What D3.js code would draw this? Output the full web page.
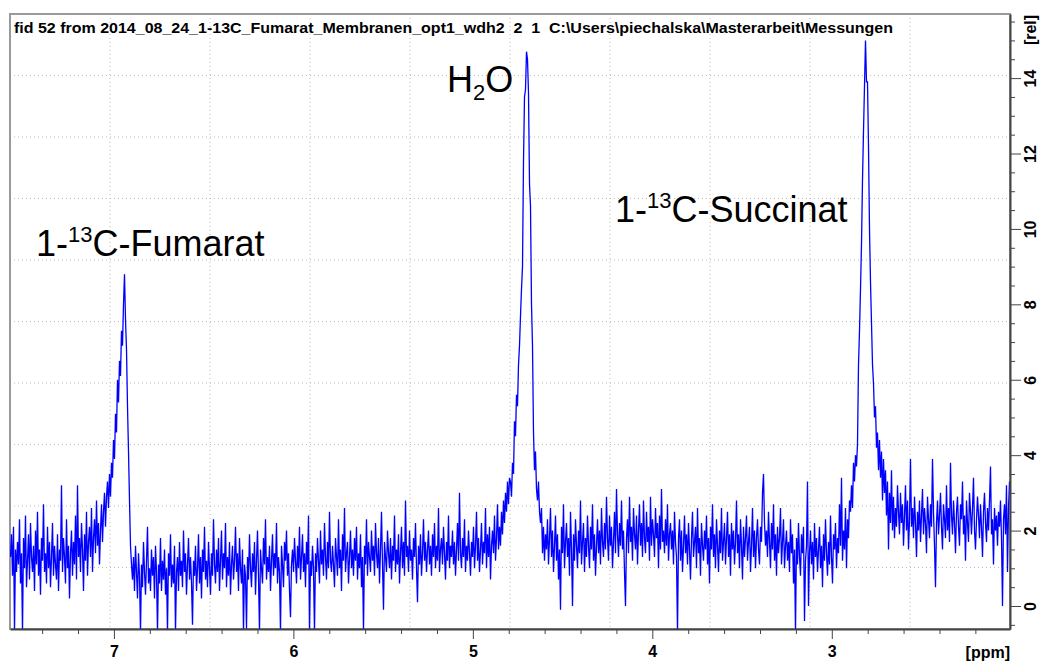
<!DOCTYPE html>
<html>
<head>
<meta charset="utf-8">
<script src="https://cdn.jsdelivr.net/npm/d3@7"></script>
<style>
  body { margin: 0; background: #fff; }
  svg { display: block; }
  .axis text { font-family: 'Liberation Sans Narrow', 'Liberation Sans', Arial, sans-serif; font-weight: bold; font-size: 16px; fill: #000; }
  .axis path, .axis line { stroke: #444; }
</style>
</head>
<body>
<svg id="chart" width="1043" height="662"></svg>
<script>
// Spectral window of the 1H trace, left edge to right edge (ppm)
const ppmStart = 7.579;
const ppmEnd = 2.007;

// Intensity [rel] of the processed spectrum, one value per point, from ppmStart to ppmEnd
const intensity = [
  // 7.58 - 7.08 ppm baseline
  1.3, 1.9, 0.8, 2.1, -0.7, 1.5, 0.9, 1.7, 1.1, 2.3, 0.6, 1.4, -0.7, 1.8, 1.0, 2.4, 0.5, 1.2, 1.9, 0.7, 2.2, 1.3, 0.9, 1.6, 0.4, 2.0, 1.1, 2.5, 0.8, 1.5,
  0.3, 1.8, 1.2, 2.7, 0.9, 1.4, 0.6, 2.1, 1.0, 1.7, 0.5, 1.3, 2.2, 0.8, 1.6, 1.1, 0.7, 1.9, 0.4, 1.5,
  1.2, 3.2, 0.9, 1.8, 1.3, 0.6, 2.3, 1.0, 1.6, 0.2, 1.4, 2.0, 0.8, 1.7, 1.1, 2.4, 0.7, 3.2, 1.3, 1.8,
  0.9, 2.2, 1.5, 0.4, 1.9, 1.2, 2.5, 0.8, 1.7, 2.1, 1.3, 2.6, 0.9, 1.8, 2.3, 1.4, 2.8, 1.6, 2.2, 1.1,
  // fumarate signal
  2.0, 2.7, 1.7, 2.5, 3.0, 2.1, 2.9, 3.3, 2.6, 3.5, 2.9, 3.8, 3.4, 4.4, 3.9, 5.1, 4.6, 6.0, 5.4, 6.5,
  6.1, 7.3, 6.9, 8.0, 8.8, 7.6, 6.8, 5.3, 4.1, 2.8, 1.6, 1.1,
  // 6.90 - 4.80 ppm baseline
  0.7, 1.3, 0.4, 1.6, 0.9, 0.2, 1.4, 0.8, -0.7, 1.1, 0.5, 1.7, 0.9, 0.3, 1.2, 2.1, 0.6, 1.0, 0.4, 1.5,
  0.8, 1.3, 0.2, 1.6, 0.9, -0.7, 1.1, 0.6, 1.8, 0.4, 1.2, 0.7, 1.5, 0.3, 1.0, -0.7, 1.4, 0.8, 1.9, 0.5,
  1.1, 0.6, 1.6, -0.7, 0.9, 1.3, 0.4, 1.7, 0.8, 1.2, 0.5, 2.0, 0.9, 1.4, 0.3, 1.1, 1.8, 0.7, 1.3, 0.6,
  -0.5, 1.2, 0.8, 1.6, 0.4, 1.0, 1.9, 0.6, 1.3, 0.2, 1.5, 0.9, 2.1, 0.7, 1.2, 0.5, 1.7, 1.0, 0.3, 1.4,
  0.8, 2.3, 1.1, 0.6, 1.5, 0.9, 1.8, 0.4, 1.2, 2.0, 0.7, 1.4, 1.0, 2.2, 0.5, 1.3, 0.8, 1.7, 0.3, 1.1,
  1.6, 0.7, 1.2, 2.1, 0.9, 1.4, 0.4, 1.8, 1.0, 0.6, 1.5, -0.7, 1.1, 0.8, -0.6, 1.3, 0.7, 1.9, 1.0, 0.5,
  1.4, 0.9, 1.7, 0.3, 1.2, 2.0, 0.8, -0.7, 1.5, 1.0, 0.6, 1.8, 1.1, 2.3, 0.7, 1.3, 0.9, 1.6, 0.4, 1.2,
  1.9, 0.8, 1.4, 1.0, 2.2, 0.6, 1.3, 0.9, -0.7, 1.6, 1.1, 0.5, 1.7, 1.2, 2.0, 0.8, 1.4, 0.4, -0.3, 1.1,
  1.5, 0.9, 1.8, 1.2, 0.6, 1.6, 1.0, 2.1, 0.7, 1.3, 1.9, 0.9, 1.4, 0.5, 1.7, 1.1, 2.4, -0.7, 1.2, 0.8,
  1.6, 1.0, -0.7, 1.4, 0.9, 1.8, 1.2, 0.6, 2.0, 1.1, 1.5, 0.8, 2.2, 1.3, 0.7, 1.7, 1.0, 2.5, 1.2, 0.9,
  1.6, 1.1, 0.5, 1.8, 1.3, 0.8, 2.3, 1.0, 1.5, 0.4, 1.9, 1.2, 2.6, 0.9, 1.4, 1.7, 0.6, 1.3, 2.0, 1.0,
  1.5, 0.8, 1.8, 1.2, 2.1, 0.7, 1.4, 1.0, 1.9, 0.5, 1.3, -0.7, 1.6, 1.1, 2.3, 0.8, 1.7, 1.3, 0.9, 2.0,
  1.2, 1.6, 0.8, 2.2, 1.4, 1.0, 1.8, 0.6, 1.5, 2.5, 1.1, -0.1, 1.7, 1.3, 0.9, 2.0, 1.4, 1.0, 1.8, 0.7,
  1.6, 1.2, 2.4, 0.9, 1.5, 1.1, 1.9, 0.6, 1.4, 2.1, 1.0, 1.7, 0.8, 2.8, 1.3, 1.6, 0.9, 2.0, 1.2, 1.5,
  0.7, 1.8, 1.3, 2.2, 1.0, 0.1, 1.6, 1.1, 1.9, 0.8, 1.4, 2.3, 1.2, 1.7, 0.9, 1.5, 2.0, 1.1, 1.6, 0.8,
  1.9, 1.3, 2.2, 1.0, 1.6, 1.2, 2.6, 0.9, 1.5, 1.8, 1.1, 2.1, 1.4, 0.7, 1.7, 1.2, 2.4, 1.0, 1.6, 1.3,
  2.0, 1.1, 1.7, 0.8, 1.5, 2.2, 1.2, 3.0, 1.4, 1.0, 1.8, 1.3, 2.3, 0.9, 1.6, 1.2, 2.0, 1.4, 0.8, 1.7,
  1.3, 2.1, 1.0, 1.6, 2.5, 1.2, 1.8, 0.9, 1.5, 2.2, 1.1, 1.7, 1.4, 2.6, 1.0, 1.9, 1.3, 2.1, 0.7, 1.6,
  2.0, 1.4, 2.4, 1.2, 1.8, 2.7, 1.5, 2.1, 1.6, 2.5, 1.9, 2.8, 2.2, 3.0, 2.5, 3.3, 2.7, 3.4,
  // water signal
  3.3, 2.9, 3.8, 3.5, 4.9, 4.5, 5.6, 5.3, 6.4, 6.9, 7.7, 8.4, 9.0, 11.8, 13.5, 13.7, 14.7, 14.5, 13.6, 11.2,
  10.6, 8.0, 6.9, 4.6, 3.6, 4.1, 3.1, 2.8, 3.3, 2.5, 2.2, 2.6, 1.4, 2.1, 1.2, 1.9,
  // 4.60 - 2.95 ppm baseline
  1.5, 2.3, 1.1, 1.8, 2.6, 1.3, 2.0, 0.9, 1.6, 2.4, 1.2, 1.9, 0.7, 1.5, -0.1, 2.1, 1.4, 2.7, 1.0, 1.7,
  2.2, 1.3, 1.8, 0.8, 2.5, 1.5, 0.0, 1.9, 1.2, 2.3, 1.6, 1.0, 2.0, 1.4, 2.8, 1.1, 1.7, 2.2, 0.9, 1.8,
  1.3, 2.4, 1.6, 1.0, 2.1, 1.5, 2.7, 1.2, 1.9, 0.8, 1.6, 2.3, 1.4, 2.0, 1.1, 2.6, 1.7, 1.3, 2.2, 1.5,
  2.9, 1.8, 1.2, 2.4, 1.6, 2.1, 1.0, 1.7, 2.5, 1.4, 3.1, 1.9, 1.3, 2.2, 1.6, 2.8, 1.5, 2.0, 0.9, 0.0,
  1.8, 2.3, 1.4, 2.9, 1.7, 2.1, 1.2, 2.6, 1.9, 1.5, 2.4, 1.1, 2.0, 2.7, 1.6, 2.2, 1.3, 2.8, 1.8, 1.4,
  2.5, 1.7, 2.1, 1.2, 2.9, 1.6, 2.3, 1.9, 1.3, 2.6, 1.8, 2.2, 1.0, 2.4, 1.5, 3.1, 1.7, 2.0, 1.4, 2.3,
  1.6, 2.7, 1.2, 1.9, 2.2, 1.5, 2.0, 1.1, 2.5, 1.7, 1.3, -0.7, 1.8, 2.3, 1.2, 2.0, 0.9, 1.6, 2.4, 1.4,
  1.9, 1.1, 2.2, 1.5, 0.7, 1.8, 2.5, 1.3, 1.7, 2.1, 1.0, 2.6, 1.4, 1.8, 0.8, 2.2, 1.6, 1.2, 2.0, 1.5,
  2.4, 1.1, 1.8, 0.6, 2.1, 1.5, 2.7, 1.3, 1.9, 1.0, 2.3, 1.6, 0.9, 2.0, 1.4, 2.6, 1.2, 1.7, 2.2, 1.1,
  1.8, 2.5, 1.3, 1.9, 0.8, 2.2, 1.5, 2.0, 1.1, 1.7, 2.8, 1.4, 1.9, 1.0, 2.3, 1.6, 0.7, 2.1, 1.3, 1.8,
  2.4, 1.2, 1.7, 2.1, 0.9, 1.6, 2.6, 1.3, 2.0, 1.0, 1.8, 2.3, 1.5, 1.1, 2.1, 1.7, 3.0, 3.5, 2.2, 1.6,
  2.0, 1.3, 2.5, 1.7, 1.0, 2.2, 1.5, 2.7, 1.2, 1.9, 0.8, 2.1, 1.4, 1.8, 2.6, 1.1, 1.7, 2.3, 1.0, 1.6,
  2.0, 1.2, 1.7, 0.9, 2.3, 1.4, 1.9, 0.6, 1.5, -0.7, 1.8, 1.1, 2.2, 1.3, 0.8, 1.9, 1.4, 2.1, -0.4, 1.2,
  1.6, 3.3, 0.0, 1.4, 2.0, 1.1, 1.7, 0.7, 2.2, 1.3, 1.8, 0.9, 1.5, 2.1, 1.0, 1.6, 0.5, 1.9, 1.2, 2.3,
  1.4, 0.8, 1.7, 1.1, 2.4, 1.3, 0.6, 1.9, 1.5, 2.2, 1.0, 1.8, 1.4, 2.7, 1.6, 3.4, 1.2, 2.0, 1.5, 2.6,
  1.0, 2.3, 1.8, 2.8,
  // succinate signal
  2.5, 3.2, 2.6, 3.8, 3.3, 4.0, 3.7, 4.3, 6.4, 7.3, 8.4, 9.6, 11.3, 12.6, 13.8, 15.0, 13.9, 13.9, 12.2, 10.0,
  8.6, 7.5, 6.4, 5.9, 5.0, 5.3, 4.2, 4.6, 3.6, 4.4, 3.4, 4.1, 2.8, 3.9, 3.0, 3.6, 2.4, 3.3, 1.5, 3.0,
  2.2, 3.6, 2.0, 2.9, 1.8, 2.6, 2.1, 3.2,
  // 2.75 - 2.01 ppm baseline
  2.5, 1.9, 3.0, 2.2, 2.7, 1.6, 2.4, 3.2, 2.0, 2.8, 1.5, 2.3, 3.9, 2.1, 2.6, 1.8, 2.9, 2.2, 1.3, 2.5,
  2.0, 2.8, 1.7, 2.4, 3.1, 1.9, 2.6, 2.2, 1.4, 2.9, 2.3, 1.8, 2.7, 2.1, 3.9, 2.5, 1.6, 0.5, 2.2, 2.8,
  1.9, 2.4, 3.0, 2.1, 1.5, 2.7, 2.3, 1.8, 3.2, 2.0, 2.6, 1.7, 3.8, 2.4, 1.9, 2.8, 2.2, 1.4, 2.5, 2.9,
  2.1, 1.6, 2.7, 2.3, 3.3, 1.9, 2.4, 1.2, 2.8, 2.2, 1.7, 3.0, 2.5, 1.9, 2.6, 3.4, 2.0, 1.5, 2.3, 2.9,
  2.4, 1.8, 2.7, 2.1, 1.3, 2.5, 3.0, 2.2, 1.7, 2.6, 2.0, 2.8, 3.7, 1.9, 2.3, 1.1, 2.6, 2.0, 2.4, 1.6,
  2.5, 2.1, 2.8, 1.8, 0.0, 2.3, 2.7, 1.9, 3.2, 0.9, 2.6, 3.3
];

// Axis ticks
const xMajorTicks = [7, 6, 5, 4, 3];
const xMinorStep = 0.2;
const yMajorTicks = [0, 2, 4, 6, 8, 10, 12, 14];
const yMinorStep = 0.5;

// Text
const titleText = "fid 52 from 2014_08_24_1-13C_Fumarat_Membranen_opt1_wdh2  2  1  C:\\Users\\piechalska\\Masterarbeit\\Messungen";
const xUnit = "[ppm]";
const yUnit = "[rel]";

// ---- layout ----
const svg = d3.select("#chart");
const frame = { left: 10, top: 14, right: 1010, bottom: 629 };
const fw = frame.right - frame.left, fh = frame.bottom - frame.top;

const x = d3.scaleLinear().domain([ppmStart, ppmEnd]).range([frame.left, frame.right]);
const y = d3.scaleLinear().domain([-0.61, 15.7]).range([frame.bottom, frame.top]);

// sample positions on the chemical-shift axis (uniform digitisation)
const n = intensity.length;
const dppm = (ppmEnd - ppmStart) / n;
const spectrum = intensity.map((v, i) => ({ ppm: ppmStart + (i + 0.5) * dppm, v }));

// grid: the frame is divided into ten equal parts each way
const grid = svg.append("g").attr("stroke", "#bdbdbd").attr("stroke-width", 1).attr("stroke-dasharray", "1,3");
d3.range(1, 10).forEach(k => {
  const gx = frame.left + k * fw / 10;
  const gy = frame.top + k * fh / 10;
  grid.append("line").attr("x1", gx).attr("x2", gx).attr("y1", frame.top).attr("y2", frame.bottom);
  grid.append("line").attr("x1", frame.left).attr("x2", frame.right).attr("y1", gy).attr("y2", gy);
});

// frame
svg.append("rect")
  .attr("x", frame.left).attr("y", frame.top).attr("width", fw).attr("height", fh)
  .attr("fill", "none").attr("stroke", "#9a9a9a").attr("stroke-width", 2);

// clip so excursions stay inside the frame
svg.append("clipPath").attr("id", "plotClip")
  .append("rect").attr("x", frame.left).attr("y", frame.top).attr("width", fw).attr("height", fh);

// spectrum trace
const line = d3.line().x(d => x(d.ppm)).y(d => y(d.v));
svg.append("path")
  .datum(spectrum)
  .attr("clip-path", "url(#plotClip)")
  .attr("fill", "none")
  .attr("stroke", "#0000ff")
  .attr("stroke-width", 1.3)
  .attr("stroke-linejoin", "miter")
  .attr("d", line);

// bottom axis (ppm)
const xMinor = d3.range(7.4, 2.1, -xMinorStep).map(v => +v.toFixed(1)).filter(v => !xMajorTicks.includes(v));
svg.append("g").attr("class", "axis")
  .attr("transform", `translate(0,${frame.bottom})`)
  .call(d3.axisBottom(x).tickValues(xMinor).tickSize(5).tickSizeOuter(0).tickFormat(""))
  .call(g => g.select(".domain").attr("stroke-width", 2));
svg.append("g").attr("class", "axis")
  .attr("transform", `translate(0,${frame.bottom})`)
  .call(d3.axisBottom(x).tickValues(xMajorTicks).tickSize(10).tickSizeOuter(0).tickPadding(7).tickFormat(d3.format("d")))
  .call(g => g.select(".domain").remove());

svg.append("text")
  .attr("x", frame.right).attr("y", 658)
  .attr("text-anchor", "end")
  .style("font-family", "'Liberation Sans Narrow','Liberation Sans',Arial,sans-serif")
  .style("font-weight", "bold").style("font-size", "16px")
  .text(xUnit);

// right axis (intensity)
const yMinor = d3.range(-0.5, 15.6, yMinorStep).filter(v => !yMajorTicks.includes(v));
svg.append("g").attr("class", "axis")
  .attr("transform", `translate(${frame.right},0)`)
  .call(d3.axisRight(y).tickValues(yMinor).tickSize(5).tickSizeOuter(0).tickFormat(""))
  .call(g => g.select(".domain").attr("stroke-width", 2));
const yAx = svg.append("g").attr("class", "axis")
  .attr("transform", `translate(${frame.right},0)`)
  .call(d3.axisRight(y).tickValues(yMajorTicks).tickSize(11).tickSizeOuter(0).tickFormat(""))
  .call(g => g.select(".domain").remove());
yAx.selectAll(".tick").append("text")
  .attr("transform", "translate(26,0) rotate(-90)")
  .attr("x", 0).attr("y", 0).attr("dy", 0)
  .attr("text-anchor", "middle")
  .text(d => d);

svg.append("text")
  .attr("transform", `translate(1036,30) rotate(-90)`)
  .attr("text-anchor", "middle")
  .style("font-family", "'Liberation Sans Narrow','Liberation Sans',Arial,sans-serif")
  .style("font-weight", "bold").style("font-size", "16px")
  .text(yUnit);

// title line
svg.append("text")
  .attr("x", 14).attr("y", 33)
  .attr("xml:space", "preserve")
  .attr("textLength", 879)
  .attr("lengthAdjust", "spacingAndGlyphs")
  .style("white-space", "pre")
  .style("font-family", "'Liberation Sans',Arial,sans-serif")
  .style("font-weight", "bold").style("font-size", "14.5px")
  .text(titleText);

// peak assignments
const labelFont = "'Liberation Sans',Arial,sans-serif";
function peakLabel(px, py, parts) {
  const t = svg.append("text").attr("x", px).attr("y", py)
    .style("font-family", labelFont).style("font-size", "36px").attr("fill", "#000");
  parts.forEach(p => {
    t.append("tspan")
      .attr("dy", p.shift || 0)
      .style("font-size", p.small ? "22px" : "36px")
      .text(p.text);
  });
}
peakLabel(36, 256, [{ text: "1-" }, { text: "13", small: true, shift: -14 }, { text: "C-Fumarat", shift: 14 }]);
peakLabel(447, 92, [{ text: "H" }, { text: "2", small: true, shift: 8 }, { text: "O", shift: -8 }]);
peakLabel(615, 222, [{ text: "1-" }, { text: "13", small: true, shift: -14 }, { text: "C-Succinat", shift: 14 }]);
</script>
</body>
</html>
